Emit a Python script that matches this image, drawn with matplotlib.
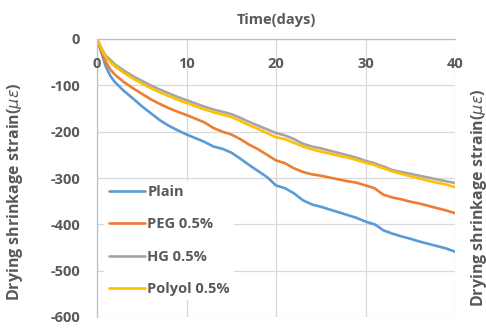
import matplotlib
matplotlib.use("Agg")
import matplotlib.pyplot as plt

days = [0, 0.5, 1, 1.5, 2, 3, 4, 5, 6, 7, 8, 9, 10, 11, 12, 13, 14, 15, 16, 17, 18, 19, 20,
        21, 22, 23, 24, 25, 26, 27, 28, 29, 30, 31, 31.5, 32, 33, 34, 35, 36, 37, 38, 39, 40]

plain = [0, -30, -60, -80, -93, -112, -128, -145, -160, -175, -187, -197, -206, -214, -222,
         -232, -237, -245, -258, -272, -285, -298, -316, -322, -333, -348, -357, -362, -368,
         -374, -380, -386, -394, -400, -406, -413, -420, -426, -431, -437, -442, -447, -452, -459]

peg = [0, -25, -50, -66, -77, -93, -106, -118, -130, -140, -149, -157, -164, -172, -180,
       -192, -200, -206, -216, -228, -238, -250, -262, -268, -279, -287, -292, -295, -299,
       -303, -307, -310, -316, -322, -329, -336, -342, -346, -351, -355, -360, -365, -370, -376]

hg = [0, -20, -37, -45, -55, -68, -80, -90, -100, -109, -117, -125, -132, -139, -146,
      -152, -157, -162, -170, -179, -187, -195, -203, -208, -216, -226, -232, -236, -241,
      -246, -251, -256, -263, -268, -272, -275, -283, -287, -291, -295, -299, -303, -307, -311]

polyol = [0, -22, -40, -50, -59, -73, -85, -96, -106, -115, -123, -131, -138, -145, -152,
          -158, -163, -168, -177, -186, -194, -203, -212, -216, -224, -232, -238, -243, -247,
          -252, -256, -261, -267, -272, -276, -279, -286, -291, -296, -301, -306, -310, -314, -320]

series_names = ["Plain", "PEG 0.5%", "HG 0.5%", "Polyol 0.5%"]
colors = ["#5B9BD5", "#ED7D31", "#A5A5A5", "#FFC000"]
x_ticks = [0, 10, 20, 30, 40]
y_ticks = [0, -100, -200, -300, -400, -500, -600]

plt.rcParams['font.family'] = ['Open Sans', 'DejaVu Sans']
plt.rcParams['axes.unicode_minus'] = False
txt = "#595959"
fw = 'bold'
fs = 10.5

fig = plt.figure(figsize=(4.86, 3.29), dpi=100)
ax = fig.add_axes([97/486, 1-317/329, (455-97)/486, (317-39)/329])

for ys, name, c in zip([plain, peg, hg, polyol], series_names, colors):
    ax.plot(days, ys, color=c, lw=1.9, label=name, solid_capstyle='round')

ax.set_xlim(0, 40)
ax.set_ylim(-600, 0)
ax.set_xticks(x_ticks)
ax.set_yticks(y_ticks)
ax.grid(True, color="#D9D9D9", lw=0.9)
ax.set_axisbelow(True)
for s in ['right', 'bottom']:
    ax.spines[s].set_visible(False)
ax.spines['top'].set_color("#BFBFBF")
ax.spines['left'].set_color("#BFBFBF")
ax.spines['top'].set_linewidth(0.9)
ax.spines['left'].set_linewidth(0.9)
ax.xaxis.set_ticks_position('top')
ax.tick_params(axis='x', length=0, labeltop=False, labelbottom=False)
ax.tick_params(axis='y', length=0, pad=12, labelsize=fs, labelcolor=txt)
for lbl in ax.get_yticklabels():
    lbl.set_fontweight(fw)

for xt in x_ticks:
    ax.annotate(str(xt), xy=(xt, 0), xycoords='data', xytext=(0, -13), textcoords='offset points',
                ha='center', va='top', fontsize=fs, color=txt, fontweight=fw)

ax.set_title("Time(days)", fontsize=fs, fontweight=fw, color=txt, pad=11)
ax.set_ylabel(r"Drying shrinkage strain($\mu\varepsilon$)", fontsize=11.5, fontweight=fw, color=txt)
ax.yaxis.set_label_coords(-0.2, 0.45)

fig.text(469/486, 1-198/329, r"Drying shrinkage strain($\mu\varepsilon$)", rotation=90,
         ha='left', va='center', fontsize=11.5, fontweight=fw, color=txt)

leg = ax.legend(loc='lower left', bbox_to_anchor=(0.02, 0.06), frameon=True, fontsize=fs,
                handlelength=2.5, handletextpad=0.15, labelspacing=1.25, borderpad=0.3,
                borderaxespad=0)
leg.get_frame().set_edgecolor('none')
leg.get_frame().set_facecolor('white')
leg.get_frame().set_alpha(1)
for t in leg.get_texts():
    t.set_color(txt)
    t.set_fontweight(fw)

fig.savefig("out.png", dpi=100)
